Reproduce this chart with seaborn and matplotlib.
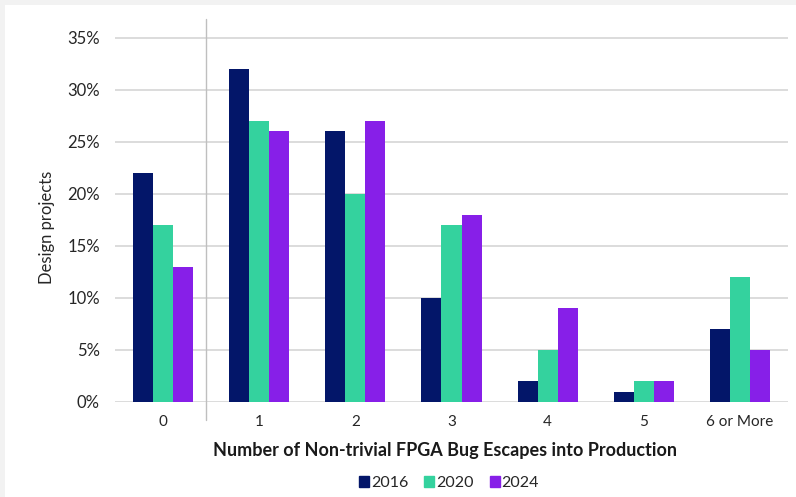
import matplotlib.pyplot as plt
import matplotlib.patches as mpatches
import pandas as pd
import seaborn as sns
from matplotlib.ticker import PercentFormatter

# Data
CATEGORIES = ['0', '1', '2', '3', '4', '5', '6 or More']
YEARS = ['2016', '2020', '2024']
SHARE_2016 = [22, 32, 26, 10, 2, 1, 7]
SHARE_2020 = [17, 27, 20, 17, 5, 2, 12]
SHARE_2024 = [13, 26, 27, 18, 9, 2, 5]

COLORS = {'2016': '#031669', '2020': '#34D29E', '2024': '#871FE8'}


def build_frame():
    rows = []
    for year, values in zip(YEARS, [SHARE_2016, SHARE_2020, SHARE_2024]):
        for cat, v in zip(CATEGORIES, values):
            rows.append({'Escapes': cat, 'Year': year, 'Share': v / 100.0})
    return pd.DataFrame(rows)


def main():
    df = build_frame()

    sns.set_style("white")
    plt.rcParams['font.family'] = ['Lato', 'DejaVu Sans']

    fig = plt.figure(figsize=(7.96, 4.97), dpi=100)
    fig.patch.set_facecolor('#f2f2f2')
    # white panel inside the light grey frame
    fig.patches.append(mpatches.Rectangle((5 / 796, 0), 1, 1 - 5 / 497,
                                          transform=fig.transFigure,
                                          facecolor='white', edgecolor='none',
                                          zorder=-10))

    ax = fig.add_axes([115 / 796, 1 - 402 / 497, (788 - 115) / 796, (402 - 19) / 497])
    ax.set_facecolor('none')

    sns.barplot(data=df, x='Escapes', y='Share', hue='Year', order=CATEGORIES,
                hue_order=YEARS, palette=COLORS, width=0.625, gap=0,
                linewidth=0, saturation=1, ax=ax, legend=False, zorder=3)

    ax.set_xlim(-0.5, len(CATEGORIES) - 0.5)
    ax.set_ylim(0, 0.368)
    ax.set_yticks([i * 0.05 for i in range(8)])
    ax.yaxis.set_major_formatter(PercentFormatter(xmax=1, decimals=0))
    ax.yaxis.grid(True, color='#d9d9d9', linewidth=1.3, zorder=0)
    ax.set_axisbelow(True)
    for s in ax.spines.values():
        s.set_visible(False)

    # vertical axis line sitting between the first two categories
    ax.axvline(0.45, ymin=-0.047, ymax=1, color='#bfbfbf', linewidth=1,
               clip_on=False, zorder=1)

    ax.tick_params(axis='both', length=0, colors='#262626')
    ax.tick_params(axis='y', labelsize=12, pad=11)
    ax.tick_params(axis='x', labelsize=11, pad=9)

    ax.set_ylabel('Design projects', fontsize=12, color='#262626', labelpad=9)
    ax.yaxis.set_label_coords(-0.089, 0.455)
    ax.set_xlabel('Number of Non-trivial FPGA Bug Escapes into Production',
                  fontsize=13, fontweight='bold', color='#1a1a1a', labelpad=10)
    ax.xaxis.label.set_x(0.49)

    handles = [mpatches.Patch(color=COLORS[y], label=y) for y in YEARS]
    fig.legend(handles=handles, loc='center', ncol=3,
               bbox_to_anchor=(449 / 796, 1 - 483 / 497), frameon=False,
               fontsize=11.5, handlelength=0.63, handleheight=0.63,
               handletextpad=0.12, columnspacing=1.0, borderpad=0)

    fig.savefig('out.png', dpi=100, facecolor=fig.get_facecolor())


if __name__ == "__main__":
    main()
